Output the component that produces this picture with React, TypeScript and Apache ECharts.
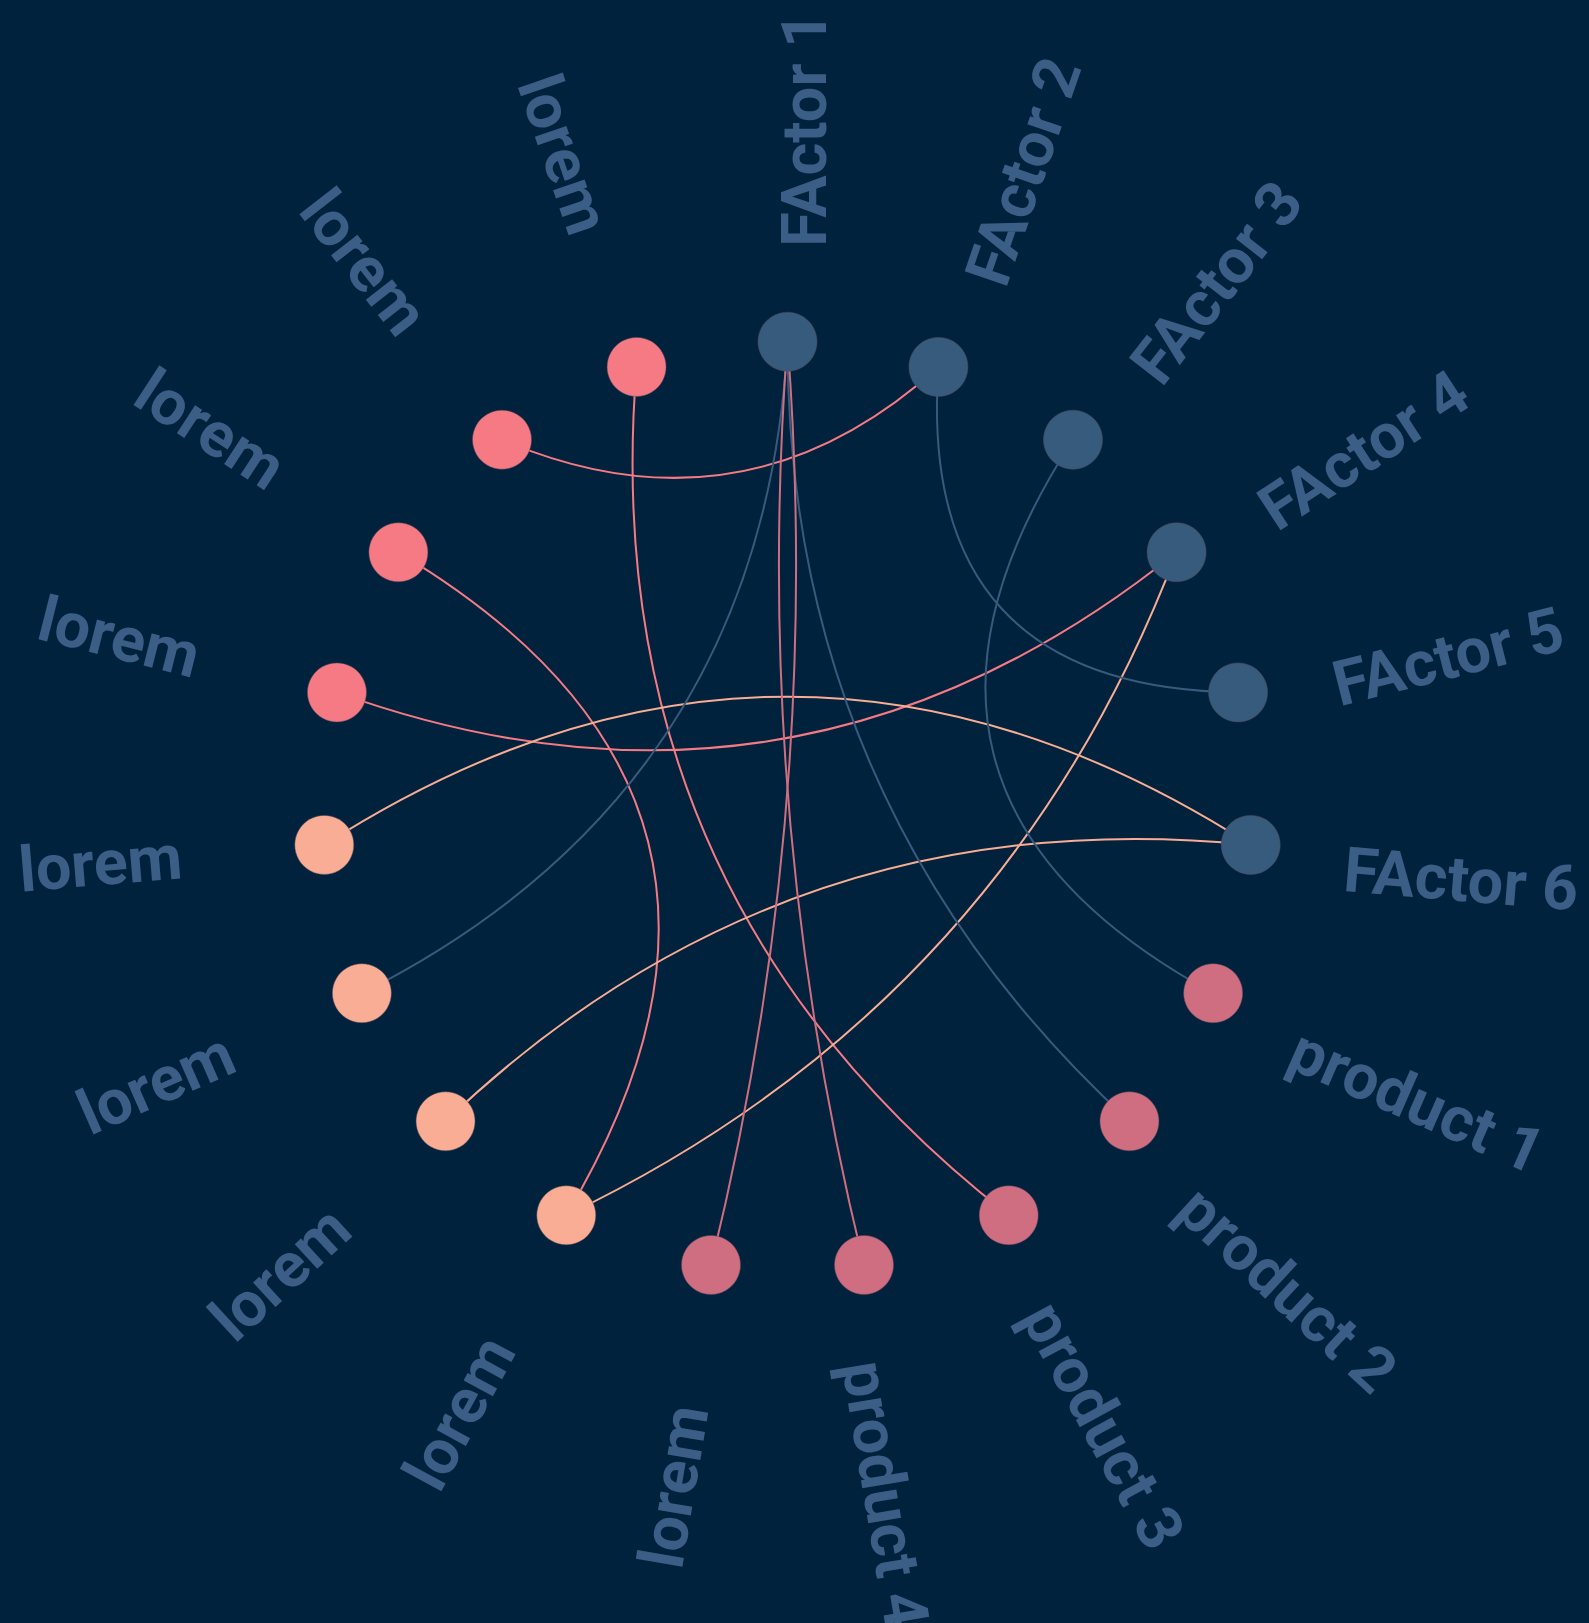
import React, { useEffect, useRef } from 'react';
import * as echarts from 'echarts';

// ---- data ----
const CATEGORY_NAMES = ['FActor', 'product', 'lorem A', 'lorem B'];
const CATEGORY_COLORS = ['#375b7d', '#d06e81', '#f9ad94', '#f67a84'];

const NODE_NAMES = [
  'FActor 1', 'FActor 2', 'FActor 3', 'FActor 4', 'FActor 5', 'FActor 6',
  'product 1', 'product 2', 'product 3', 'product 4',
  'lorem', 'lorem', 'lorem', 'lorem', 'lorem', 'lorem', 'lorem', 'lorem', 'lorem',
];
const NODE_CATEGORIES = [0, 0, 0, 0, 0, 0, 1, 1, 1, 1, 1, 2, 2, 2, 2, 3, 3, 3, 3];

const LINK_SOURCES = [17, 18, 16, 15, 11, 14, 12, 0, 0, 1, 2, 10, 9];
const LINK_TARGETS = [1, 8, 11, 3, 3, 5, 5, 13, 7, 4, 6, 0, 0];
const LINK_CURVENESS = [-0.32, -0.27, 0.5, -0.28, -0.2, 0.32, 0.23, 0.29, -0.22, -0.53, -0.54, -0.08, 0.08];

const BG = '#01223c';
const LABEL_COLOR = '#3a5e85';

export default function App() {
  const ref = useRef<HTMLDivElement>(null);

  useEffect(() => {
    if (!ref.current) return;
    const chart = echarts.init(ref.current, null, { renderer: 'svg' });
    const count = NODE_NAMES.length;
    const step = 360 / count;

    const nodes = NODE_NAMES.map((name, i) => {
      const theta = 90 - i * step;
      const isLeft = Math.cos((theta * Math.PI) / 180) < -1e-6;
      return {
        id: 'n' + i,
        name,
        value: [1, i],
        category: NODE_CATEGORIES[i],
        label: {
          rotate: isLeft ? theta + 180 : theta,
          align: isLeft ? 'right' : 'left',
          offset: isLeft ? [-143, 0] : [95, 17],
        },
      };
    });

    const links = LINK_SOURCES.map((s, k) => ({
      source: s,
      target: LINK_TARGETS[k],
      lineStyle: { curveness: LINK_CURVENESS[k] },
    }));

    chart.setOption({
      animation: false,
      backgroundColor: BG,
      polar: { center: [787.5, 806.5], radius: 464.8 },
      angleAxis: {
        type: 'value',
        min: 0,
        max: count,
        startAngle: 90,
        clockwise: true,
        show: false,
      },
      radiusAxis: { type: 'value', min: 0, max: 1, show: false },
      series: [
        {
          type: 'graph',
          coordinateSystem: 'polar',
          polarIndex: 0,
          symbol: 'circle',
          symbolSize: 59,
          categories: CATEGORY_NAMES.map((n, c) => ({ name: n, itemStyle: { color: CATEGORY_COLORS[c] } })),
          data: nodes,
          links,
          itemStyle: { borderWidth: 1, borderColor: 'rgba(90,70,90,0.5)' },
          label: {
            show: true,
            position: ['50%', '50%'],
            verticalAlign: 'middle',
            fontFamily: 'Roboto',
            fontWeight: 'bold',
            fontSize: 63,
            color: LABEL_COLOR,
            textBorderWidth: 0,
            textBorderColor: 'transparent',
            formatter: '{b}',
          },
          lineStyle: { color: 'source', width: 2, opacity: 1 },
          emphasis: { disabled: true },
        },
      ],
    });
    return () => chart.dispose();
  }, []);

  return (
    <div
      ref={ref}
      style={{ position: 'absolute', left: 0, top: 0, width: 1589, height: 1623, background: BG }}
    />
  );
}
